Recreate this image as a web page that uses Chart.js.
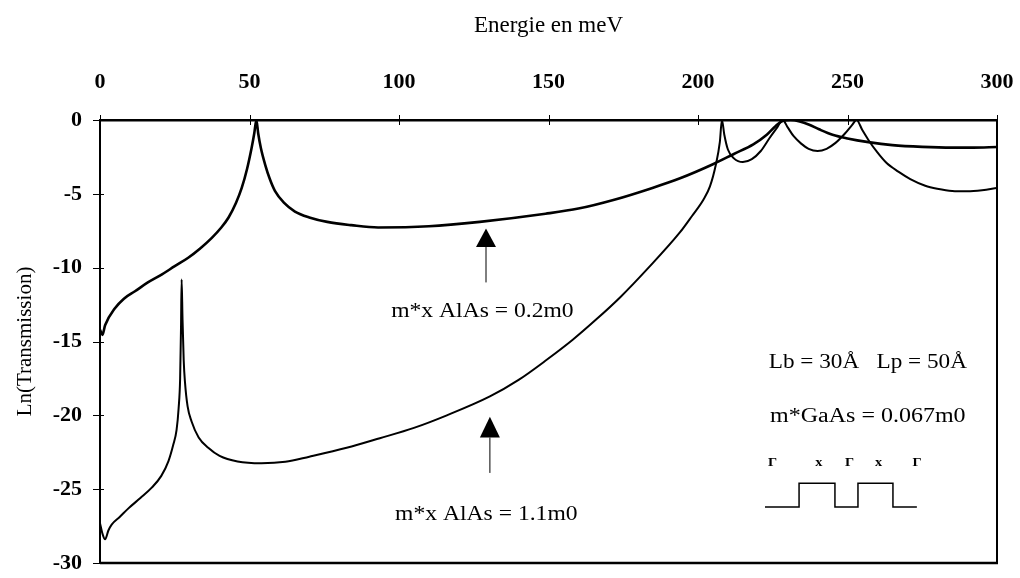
<!DOCTYPE html>
<html>
<head>
<meta charset="utf-8">
<script src="https://cdn.jsdelivr.net/npm/chart.js@4.4.1/dist/chart.umd.min.js"></script>
<style>
  html, body { margin: 0; padding: 0; background: #fff; }
  #wrap { width: 1020px; height: 578px; }
</style>
</head>
<body>
<div id="wrap"><canvas id="transChart" width="1020" height="578"></canvas></div>
<script>
// tick values
const energyTicks = [0, 50, 100, 150, 200, 250, 300];
const lnTicks = [0, -5, -10, -15, -20, -25, -30];

// m*x AlAs = 0.2m0
const energyLight = [0, 0.8, 1.7, 5, 8, 11.7, 16, 20.6, 25, 29.5, 33.5, 37.4, 40.5, 43, 45.5, 47.4, 49.2, 50.7, 51.6, 52.3, 52.9, 53.8, 55.2, 56.8, 58.5, 61.5, 65.2, 70, 76, 84, 93, 110, 127, 149, 160, 172, 184, 194, 205, 212, 218.5, 223, 226, 228.5, 231, 234, 237, 240.5, 245, 250, 257, 265, 275, 285, 292, 300];
const lnTLight = [-14.2, -14.55, -13.9, -12.75, -12.1, -11.6, -11.0, -10.47, -9.9, -9.33, -8.7, -7.98, -7.3, -6.6, -5.6, -4.6, -3.3, -1.9, -0.9, 0, -0.9, -1.9, -3.0, -4.0, -4.8, -5.6, -6.2, -6.6, -6.9, -7.12, -7.28, -7.2, -6.9, -6.35, -6.0, -5.4, -4.65, -3.95, -3.0, -2.3, -1.65, -1.0, -0.4, -0.05, 0, -0.1, -0.3, -0.63, -1.0, -1.25, -1.5, -1.7, -1.82, -1.87, -1.87, -1.83];

// m*x AlAs = 1.1m0
const energyHeavy = [0, 0.8, 1.7, 2.8, 3.9, 6.5, 9.5, 13.5, 17.3, 20.5, 22.9, 24.5, 25.6, 26.3, 26.8, 27.1, 27.3, 27.6, 28.0, 28.4, 29.3, 30.6, 33, 36.2, 40, 46, 54, 62, 70, 82.5, 93.6, 105, 116, 130.4, 140, 149.4, 158, 166, 174, 183, 194, 198, 201.8, 204, 206, 207.3, 208, 208.8, 210, 212, 215, 218, 221, 224, 226.5, 228.3, 230, 232, 234.5, 237, 240, 243, 246, 249, 251.5, 253, 255, 257, 260, 263, 267, 271, 276, 280, 285, 290, 295, 300];
const lnTHeavy = [-27.3, -28.0, -28.4, -27.8, -27.4, -26.9, -26.3, -25.6, -24.9, -24.1, -23.1, -22.0, -21.0, -19.5, -17.5, -14.0, -10.8, -13.5, -16.3, -17.7, -19.4, -20.4, -21.5, -22.2, -22.75, -23.13, -23.25, -23.15, -22.8, -22.2, -21.55, -20.85, -20.0, -18.72, -17.6, -16.24, -14.9, -13.5, -12.0, -10.1, -7.6, -6.5, -5.4, -4.5, -3.0, -1.5, 0, -1.0, -2.0, -2.6, -2.85, -2.65, -2.1, -1.2, -0.5, 0, -0.5, -1.1, -1.6, -1.95, -2.1, -1.95, -1.55, -0.95, -0.35, 0, -0.7, -1.35, -2.2, -2.9, -3.5, -4.0, -4.45, -4.65, -4.8, -4.82, -4.75, -4.6];

const SERIF = "'Liberation Serif', 'Times New Roman', serif";

const toPoints = (xs, ys) => xs.map((e, i) => ({ x: e, y: ys[i] }));

// frame, tick crosses, arrows, labels and the barrier sketch
const decorPlugin = {
  id: 'decor',
  afterDraw(chart) {
    const { ctx, chartArea: a, scales: { x, y } } = chart;
    ctx.save();
    ctx.strokeStyle = '#000';
    ctx.fillStyle = '#000';

    ctx.lineWidth = 2;
    ctx.beginPath();
    ctx.moveTo(a.right, a.top - 1);
    ctx.lineTo(a.right, a.bottom);
    ctx.stroke();
    ctx.lineWidth = 2.5;
    ctx.beginPath();
    ctx.moveTo(a.left, a.bottom);
    ctx.lineTo(a.right + 1, a.bottom);
    ctx.stroke();

    ctx.lineWidth = 1;
    energyTicks.forEach(v => {
      const px = Math.round(x.getPixelForValue(v)) + 0.5;
      ctx.beginPath();
      ctx.moveTo(px, a.top - 5);
      ctx.lineTo(px, a.top + 5);
      ctx.stroke();
    });
    lnTicks.forEach(v => {
      const py = Math.round(y.getPixelForValue(v)) + 0.5;
      ctx.beginPath();
      ctx.moveTo(a.left - 7, py);
      ctx.lineTo(a.left + 4, py);
      ctx.stroke();
    });

    // upward arrows pointing at each curve
    const arrow = (e, tip, base, end) => {
      const px = x.getPixelForValue(e);
      const pt = y.getPixelForValue(tip);
      const pb = y.getPixelForValue(base);
      const pe = y.getPixelForValue(end);
      ctx.beginPath();
      ctx.moveTo(px, pt);
      ctx.lineTo(px - 10, pb);
      ctx.lineTo(px + 10, pb);
      ctx.closePath();
      ctx.fill();
      ctx.lineWidth = 1;
      ctx.beginPath();
      ctx.moveTo(px, pb);
      ctx.lineTo(px, pe);
      ctx.stroke();
    };
    arrow(129.1, -7.35, -8.6, -11.0);
    arrow(130.4, -20.1, -21.5, -23.9);

    // text drawn a little wider than the font's natural width
    const label = (txt, e, v, size, weight, stretch) => {
      const k = stretch || 1;
      ctx.save();
      ctx.font = (weight || 'normal') + ' ' + size + 'px ' + SERIF;
      ctx.textAlign = 'center';
      ctx.textBaseline = 'middle';
      ctx.translate(x.getPixelForValue(e), y.getPixelForValue(v));
      ctx.scale(k, 1);
      ctx.fillText(txt, 0, 0);
      ctx.restore();
    };
    label('m*x AlAs = 0.2m0', 127.9, -12.96, 20, 'normal', 1.18);
    label('m*x AlAs = 1.1m0', 129.2, -26.75, 20, 'normal', 1.18);
    label('Lb = 30Å   Lp = 50Å', 256.8, -16.44, 20, 'normal', 1.16);
    label('m*GaAs = 0.067m0', 256.8, -20.08, 20, 'normal', 1.2);

    ['Γ', 'x', 'Γ', 'x', 'Γ'].forEach((s, i) => {
      label(s, [224.9, 240.4, 250.7, 260.4, 273.3][i], -23.2, 13, 'bold', 1.1);
    });

    // well / barrier profile
    const low = -26.2, high = -24.6;
    const steps = [[222.4, low], [233.8, low], [233.8, high], [245.8, high], [245.8, low],
                   [253.5, low], [253.5, high], [265.2, high], [265.2, low], [273.2, low]];
    ctx.lineWidth = 1.5;
    ctx.beginPath();
    steps.forEach(([e, v], i) => {
      const px = x.getPixelForValue(e), py = y.getPixelForValue(v);
      i ? ctx.lineTo(px, py) : ctx.moveTo(px, py);
    });
    ctx.stroke();
    ctx.restore();
  }
};

new Chart(document.getElementById('transChart'), {
  type: 'line',
  data: {
    datasets: [
      {
        label: 'm*x AlAs = 0.2m0',
        data: toPoints(energyLight, lnTLight),
        borderColor: '#000',
        borderWidth: 2.6,
        pointRadius: 0,
        cubicInterpolationMode: 'monotone',
        fill: false
      },
      {
        label: 'm*x AlAs = 1.1m0',
        data: toPoints(energyHeavy, lnTHeavy),
        borderColor: '#000',
        borderWidth: 2,
        pointRadius: 0,
        cubicInterpolationMode: 'monotone',
        fill: false
      }
    ]
  },
  options: {
    responsive: false,
    devicePixelRatio: 1,
    animation: false,
    layout: { padding: { left: 0, right: 23, top: 0, bottom: 15 } },
    plugins: {
      legend: { display: false },
      tooltip: { enabled: false }
    },
    scales: {
      x: {
        type: 'linear',
        position: 'top',
        min: 0,
        max: 300,
        afterBuildTicks: s => { s.ticks = energyTicks.map(v => ({ value: v })); },
        afterFit: s => {
          s.height = 120;
          s.paddingLeft = 0;
          s.paddingRight = 0;
        },
        ticks: {
          color: '#000',
          padding: 24,
          maxRotation: 0,
          font: { family: SERIF, size: 22, weight: 'bold' }
        },
        grid: { display: false, drawTicks: false },
        border: { display: true, color: '#000', width: 2.5 },
        title: {
          display: true,
          text: 'Energie en meV',
          color: '#000',
          font: { family: SERIF, size: 23 },
          padding: { top: 12, bottom: 0 }
        }
      },
      y: {
        type: 'linear',
        min: -30,
        max: 0,
        afterBuildTicks: s => { s.ticks = lnTicks.map(v => ({ value: v })); },
        afterFit: s => {
          s.width = 100;
          s.paddingTop = 0;
          s.paddingBottom = 0;
        },
        ticks: {
          color: '#000',
          padding: 18,
          font: { family: SERIF, size: 22, weight: 'bold' }
        },
        grid: { display: false, drawTicks: false },
        border: { display: true, color: '#000', width: 2 },
        title: {
          display: true,
          text: 'Ln(Transmission)',
          color: '#000',
          font: { family: SERIF, size: 21 },
          padding: { top: 13, bottom: 0 }
        }
      }
    }
  },
  plugins: [decorPlugin]
});
</script>
</body>
</html>
